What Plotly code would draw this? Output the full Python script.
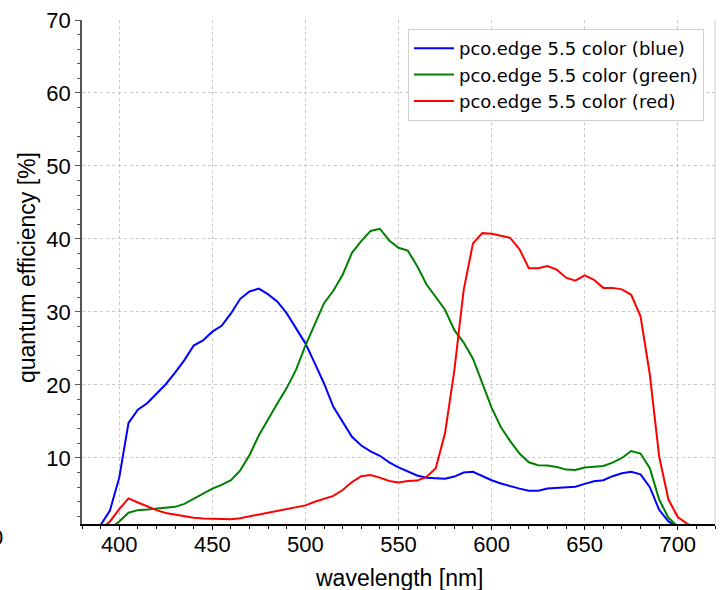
import plotly.graph_objects as go

wavelength = list(range(390, 711, 5))

blue = [0.8, 2.8, 7.3, 14.8, 16.6, 17.5, 18.8, 20.1, 21.7, 23.4, 25.4, 26.1, 27.3, 28.1,
        29.8, 31.8, 32.8, 33.2, 32.4, 31.4, 29.8, 27.8, 25.7, 23.0, 20.2, 17.0, 15.0,
        12.9, 11.7, 10.9, 10.3, 9.4, 8.7, 8.1, 7.6, 7.3, 7.2, 7.15, 7.45, 8.0, 8.1, 7.5,
        6.95, 6.5, 6.1, 5.8, 5.5, 5.5, 5.8, 5.9, 5.9, 6.05, 6.45, 6.8, 6.95, 7.5, 7.9,
        8.1, 7.75, 6.0, 2.9, 1.3, 0.5]

green = [None, 0.3, 1.3, 2.5, 2.85, 2.93, 3.05, 3.15, 3.3, 3.7, 4.4, 5.1, 5.8, 6.3, 6.95,
         8.3, 10.4, 13.1, 15.4, 17.5, 19.6, 22.1, 25.4, 28.2, 31.2, 32.9, 35.1, 38.1,
         39.7, 41.1, 41.4, 39.8, 38.8, 38.4, 36.3, 33.8, 32.1, 30.3, 27.5, 25.8, 23.6,
         20.3, 16.9, 14.2, 12.3, 10.6, 9.4, 9.0, 8.95, 8.75, 8.4, 8.35, 8.7, 8.8, 8.9,
         9.35, 10.0, 10.95, 10.6, 8.6, 4.3, 1.8, 0.6]

red = [0.2, 1.3, 3.0, 4.45, 3.9, 3.35, 2.85, 2.45, 2.2, 1.95, 1.8, 1.7, 1.65, 1.55, 1.6,
       1.75, 2.0, 2.3, 2.55, 2.8, 3.0, 3.2, 3.5, 4.0, 4.4, 4.8, 5.6, 6.7, 7.5, 7.65, 7.3,
       6.85, 6.65, 6.85, 6.9, 7.4, 8.6, 13.4, 22.0, 33.0, 39.4, 40.8, 40.7, 40.45, 40.15,
       38.6, 36.0, 36.0, 36.3, 35.8, 34.7, 34.3, 35.0, 34.4, 33.3, 33.3, 33.1, 32.35,
       29.4, 21.4, 10.2, 4.3, 1.9, 1.0, 0.3]

series_names = ["pco.edge 5.5 color (blue)", "pco.edge 5.5 color (green)",
                "pco.edge 5.5 color (red)"]
series_colors = ["#0000ff", "#008000", "#ff0000"]

x_ticks = [400, 450, 500, 550, 600, 650, 700]
y_ticks = [10, 20, 30, 40, 50, 60, 70]

x_title = "wavelength [nm]"
y_title = "quantum efficiency [%]"

fig = go.Figure()
for name, vals, col in zip(series_names, [blue, green, red], series_colors):
    fig.add_trace(go.Scatter(
        x=wavelength[:len(vals)], y=vals, mode="lines", name=name,
        line=dict(color=col, width=2), connectgaps=False))

sans = "Liberation Sans, Arial, sans-serif"
axis_font = dict(family=sans, size=22, color="black")
title_font = dict(family=sans, size=23, color="black")

L, R, T, B = 82, 6, 20, 66
W, H = 721, 590
pw, ph = W - L - R, H - T - B

fig.update_layout(
    width=W, height=H,
    margin=dict(l=L, r=R, t=T, b=B, autoexpand=False),
    plot_bgcolor="white", paper_bgcolor="white",
    showlegend=True,
    legend=dict(x=(704 - L) / pw, y=(H - B - 29) / ph, xanchor="right", yanchor="top",
                bgcolor="rgba(255,255,255,0.9)", bordercolor="#d0d0d0", borderwidth=1,
                font=dict(family="DejaVu Sans", size=18, color="black"),
                tracegroupgap=0, itemwidth=40),
    xaxis=dict(range=[380, 720], tickvals=x_ticks, ticktext=[str(v) for v in x_ticks],
               automargin=False, ticklabelstandoff=-4,
               showgrid=True, gridcolor="#c8c8c8", griddash="dot", gridwidth=1,
               showline=True, linecolor="black", linewidth=1.5,
               ticks="outside", ticklen=4, tickcolor="black",
               minor=dict(dtick=10, tick0=380, ticks="outside", ticklen=3, tickcolor="black", showgrid=False),
               tickfont=axis_font, zeroline=False),
    yaxis=dict(range=[0.95, 70], tickvals=y_ticks, ticktext=[str(v) for v in y_ticks],
               automargin=False,
               showgrid=True, gridcolor="#c8c8c8", griddash="dot", gridwidth=1,
               showline=True, linecolor="#555555", linewidth=1.5,
               ticks="outside", ticklen=5, tickcolor="#555555",
               minor=dict(dtick=2, tick0=0, ticks="outside", ticklen=3, tickcolor="#555555", showgrid=False),
               tickfont=axis_font, zeroline=False),
)

fig.add_shape(type="line", xref="paper", yref="paper", x0=1, x1=1, y0=0, y1=1,
              line=dict(color="#d0d0d0", width=1))

# axis titles
fig.add_annotation(text=x_title, xref="paper", yref="paper",
                   x=(399 - L) / pw, y=(H - B - 578) / ph,
                   xanchor="center", yanchor="middle", showarrow=False, font=title_font)
fig.add_annotation(text=y_title, xref="paper", yref="paper",
                   x=(27 - L) / pw, y=(H - B - 268) / ph, textangle=-90,
                   xanchor="center", yanchor="middle", showarrow=False, font=title_font)

# partially visible stray tick label at the far left
fig.add_annotation(text="0", xref="paper", yref="paper", x=(5 - L) / pw, y=(H - B - 537) / ph,
                   xanchor="right", yanchor="middle", showarrow=False, font=axis_font)

fig.write_html("out.html", config={"displayModeBar": False},
               post_script="document.body.style.margin='0';")
